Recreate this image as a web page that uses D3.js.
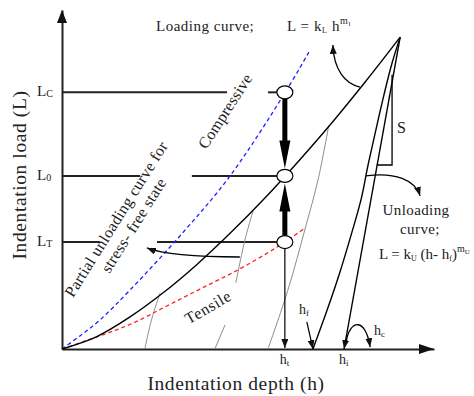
<!DOCTYPE html>
<html>
<head>
<meta charset="utf-8">
<script src="https://cdn.jsdelivr.net/npm/d3@7"></script>
<style>
body { margin: 0; background: #fff; }
text { font-family: "Liberation Serif", "Times New Roman", serif; fill: #222; }
</style>
</head>
<body>
<svg id="chart" width="474" height="396"></svg>
<script>
// values, in (h, L) units, the loading peak sits at (10, 10)
var loadingCurve = [[0, 0], [1, 0.38], [2, 1.02], [3, 1.81], [4, 2.72], [5, 3.74],
    [6, 4.84], [7, 6.03], [8, 7.28], [9, 8.61], [10, 10]];
var compressiveCurve = [[0, 0], [0.53, 0.42], [1.12, 0.93], [2.01, 1.89], [3.58, 3.74],
    [4.97, 5.55], [6.59, 8.21], [7.30, 9.52]];
var tensileCurve = [[0, 0], [1.12, 0.42], [2.10, 0.83], [3.10, 1.38], [4.08, 1.92],
    [5.26, 2.57], [6.36, 3.27], [7.19, 3.88]];
var unloadingCurve = [[7.42, 0], [7.84, 1.25], [8.22, 2.47], [8.55, 3.66], [8.84, 4.78],
    [9.05, 5.90], [9.28, 7.02], [9.52, 8.15], [9.76, 9.17], [10, 10]];
var partialCurves = [
    [[2.90, 1.80], [2.63, 0.87], [2.45, 0]],
    [[5.65, 4.43], [5.41, 3.50], [5.14, 2.12]],
    [[4.82, 0.77], [4.52, 0]],
    [[7.89, 7.18], [7.57, 5.42], [7.18, 3.82], [6.68, 1.89], [6.09, 0]]
];
var stiffnessLine = [[10, 10], [8.34, 0]];
var stiffnessTriangle = [[9.31, 5.90], [9.76, 5.90], [9.76, 8.79]];

var levelNames = ['C', '0', 'T'];
var levelValues = [8.23, 5.55, 3.43];
var levelSegments = [[[0, 4.88], [6.09, 6.59]], [[0, 2.31], [3.84, 6.59]], [[0, 1.12], [2.81, 6.59]]];
var hTest = 6.59;
var hFinal = 7.42;
var hIntercept = 8.34;

// curved pointers, cubic: start, c1, c2, end
var pointerLoading = [[8.81, 8.40], [8.37, 8.50], [8.04, 8.95], [8.01, 9.75]];
var pointerUnloading = [[8.99, 5.55], [9.85, 5.68], [10.44, 5.42], [10.59, 4.91]];
var pointerPartial = [[5.26, 2.95], [4.08, 2.95], [3.05, 3.01], [2.51, 3.24]];
var pointerHc = [[8.40, 0.22], [8.52, 0.99], [8.99, 0.99], [9.11, 0.06]];
var pointerHf = [[7.24, 0.87], [7.42, 0]];

var svg = d3.select('#chart');
var x = d3.scaleLinear().domain([0, 11]).range([62, 434]);
var y = d3.scaleLinear().domain([0, 10.87]).range([349, 10]);

var defs = svg.append('defs');
defs.append('marker')
    .attr('id', 'arrowhead')
    .attr('viewBox', '0 0 10 10')
    .attr('refX', 10).attr('refY', 5)
    .attr('markerUnits', 'userSpaceOnUse')
    .attr('markerWidth', 9).attr('markerHeight', 7)
    .attr('preserveAspectRatio', 'none')
    .attr('orient', 'auto')
    .append('path')
    .attr('d', 'M0 0 10 5 0 10Z')
    .attr('fill', '#111');

var smooth = d3.line()
    .x(function (d) { return x(d[0]); })
    .y(function (d) { return y(d[1]); })
    .curve(d3.curveCatmullRom.alpha(0.5));
var straight = d3.line()
    .x(function (d) { return x(d[0]); })
    .y(function (d) { return y(d[1]); });

function bezier(p) {
    var path = d3.path();
    path.moveTo(x(p[0][0]), y(p[0][1]));
    path.bezierCurveTo(x(p[1][0]), y(p[1][1]), x(p[2][0]), y(p[2][1]), x(p[3][0]), y(p[3][1]));
    return path.toString();
}

// axes, no ticks
svg.append('g')
    .attr('transform', 'translate(0,' + y(0) + ')')
    .call(d3.axisBottom(x).tickValues([]).tickSizeOuter(0));
svg.append('g')
    .attr('transform', 'translate(' + x(0) + ',0)')
    .call(d3.axisLeft(y).tickValues([]).tickSizeOuter(0));
svg.selectAll('.domain').attr('stroke', '#222').attr('stroke-width', 2);

var xEnd = x.range()[1], yEnd = y.range()[1];
svg.append('path')
    .attr('d', 'M' + xEnd + ' ' + y(0) + ' L' + (xEnd - 15) + ' ' + (y(0) - 5) + ' L' + (xEnd - 15) + ' ' + (y(0) + 5) + 'Z')
    .attr('fill', '#111');
svg.append('path')
    .attr('d', 'M' + x(0) + ' ' + yEnd + ' L' + (x(0) - 5) + ' ' + (yEnd + 13) + ' L' + (x(0) + 5) + ' ' + (yEnd + 13) + 'Z')
    .attr('fill', '#111');

// level lines
levelSegments.forEach(function (segs, i) {
    segs.forEach(function (s) {
        svg.append('line')
            .attr('x1', x(s[0])).attr('x2', x(s[1]))
            .attr('y1', y(levelValues[i])).attr('y2', y(levelValues[i]))
            .attr('stroke', '#222').attr('stroke-width', 2);
    });
});

// partial unloading curves
svg.selectAll('path.partial')
    .data(partialCurves).enter().append('path')
    .attr('class', 'partial')
    .attr('d', smooth)
    .attr('fill', 'none').attr('stroke', '#8c8c8c').attr('stroke-width', 1);

svg.append('path').datum(compressiveCurve)
    .attr('d', smooth)
    .attr('fill', 'none').attr('stroke', '#1f1fff').attr('stroke-width', 1.3)
    .attr('stroke-dasharray', '4,3');
svg.append('path').datum(tensileCurve)
    .attr('d', smooth)
    .attr('fill', 'none').attr('stroke', '#ff2020').attr('stroke-width', 1.3)
    .attr('stroke-dasharray', '4,3');
svg.append('path').datum(loadingCurve)
    .attr('d', smooth)
    .attr('fill', 'none').attr('stroke', '#000').attr('stroke-width', 1.4);
svg.append('path').datum(unloadingCurve)
    .attr('d', smooth)
    .attr('fill', 'none').attr('stroke', '#000').attr('stroke-width', 1.4);
svg.append('path').datum(stiffnessLine)
    .attr('d', straight)
    .attr('fill', 'none').attr('stroke', '#000').attr('stroke-width', 1.4)
    .attr('marker-end', 'url(#arrowhead)');
svg.append('path').datum(stiffnessTriangle)
    .attr('d', straight)
    .attr('fill', 'none').attr('stroke', '#000').attr('stroke-width', 1.3);

// pointers
[pointerLoading, pointerUnloading, pointerPartial, pointerHc].forEach(function (p) {
    svg.append('path')
        .attr('d', bezier(p))
        .attr('fill', 'none').attr('stroke', '#000').attr('stroke-width', 1.3)
        .attr('marker-end', 'url(#arrowhead)');
});
svg.append('path').datum(pointerHf)
    .attr('d', straight)
    .attr('fill', 'none').attr('stroke', '#000').attr('stroke-width', 1.2)
    .attr('marker-end', 'url(#arrowhead)');

// vertical arrow from L_T down to h_t
var rx = 8, ry = 6.5;
svg.append('line')
    .attr('x1', x(hTest)).attr('x2', x(hTest))
    .attr('y1', y(levelValues[2]) + ry).attr('y2', y(0) - 1)
    .attr('stroke', '#000').attr('stroke-width', 1.2)
    .attr('marker-end', 'url(#arrowhead)');

// thick arrows between the circles
function thickArrow(cx, yFrom, yTo) {
    var dir = yTo > yFrom ? 1 : -1,
        headLen = 28, headW = 5.5, shaftW = 2.5,
        yBase = yTo - dir * headLen;
    return 'M' + (cx - shaftW) + ' ' + yFrom +
        ' L' + (cx - shaftW) + ' ' + yBase +
        ' L' + (cx - headW) + ' ' + yBase +
        ' L' + cx + ' ' + yTo +
        ' L' + (cx + headW) + ' ' + yBase +
        ' L' + (cx + shaftW) + ' ' + yBase +
        ' L' + (cx + shaftW) + ' ' + yFrom + 'Z';
}
svg.append('path')
    .attr('d', thickArrow(x(hTest), y(levelValues[0]) + ry, y(levelValues[1]) - ry - 1))
    .attr('fill', '#000');
svg.append('path')
    .attr('d', thickArrow(x(hTest), y(levelValues[2]) - ry, y(levelValues[1]) + ry + 1))
    .attr('fill', '#000');

svg.selectAll('ellipse.state')
    .data(levelValues).enter().append('ellipse')
    .attr('class', 'state')
    .attr('cx', x(hTest))
    .attr('cy', function (d) { return y(d); })
    .attr('rx', rx).attr('ry', ry)
    .attr('fill', '#fff').attr('stroke', '#000').attr('stroke-width', 1.2);

// text helpers
function subText(g, px, py, size, parts) {
    var t = g.append('text').attr('x', px).attr('y', py).attr('font-size', size);
    parts.forEach(function (p) {
        t.append('tspan')
            .attr('font-size', p.size || size)
            .attr('dy', p.dy || 0)
            .text(p.text);
    });
    return t;
}

levelNames.forEach(function (n, i) {
    subText(svg, 37, y(levelValues[i]) + 4, 15, [{text: 'L'}, {text: n, size: 10, dy: 1}]);
});

subText(svg, x(hTest) - 5, 364, 14, [{text: 'h'}, {text: 't', size: 9, dy: 2}]);
subText(svg, x(hIntercept) - 5, 364, 14, [{text: 'h'}, {text: 'i', size: 9, dy: 2}]);
subText(svg, x(hFinal) - 14, 314, 14, [{text: 'h'}, {text: 'f', size: 9, dy: 2}]);
subText(svg, 374, 335, 14, [{text: 'h'}, {text: 'c', size: 9, dy: 2}]);
svg.append('text').attr('x', 397).attr('y', 133).attr('font-size', 16).text('S');

svg.append('text').attr('x', 156).attr('y', 31).attr('font-size', 15)
    .attr('letter-spacing', 0.5).text('Loading curve;');
subText(svg, 287, 31, 15, [
    {text: 'L =  k'}, {text: 'L', size: 8, dy: 2}, {text: ' h', dy: -2},
    {text: 'm', size: 10, dy: -7}, {text: 'l', size: 7, dy: 2}
]).attr('letter-spacing', 0.6);

svg.append('text').attr('x', 416).attr('y', 215).attr('font-size', 15)
    .attr('letter-spacing', 0.4).attr('text-anchor', 'middle').text('Unloading');
svg.append('text').attr('x', 420).attr('y', 234).attr('font-size', 15)
    .attr('letter-spacing', 0.4).attr('text-anchor', 'middle').text('curve;');
subText(svg, 379, 259, 15, [
    {text: 'L = k'}, {text: 'U', size: 8, dy: 2}, {text: ' (h- h', dy: -2},
    {text: 'f', size: 8, dy: 2}, {text: ')', dy: -2},
    {text: 'm', size: 10, dy: -7}, {text: 'U', size: 7, dy: 2}
]);

svg.append('text')
    .attr('transform', 'translate(225,111) rotate(-57)')
    .attr('text-anchor', 'middle').attr('dy', '0.35em')
    .attr('font-size', 16).attr('letter-spacing', 0.2).text('Compressive');
svg.append('text')
    .attr('transform', 'translate(208,307) rotate(-30)')
    .attr('text-anchor', 'middle').attr('dy', '0.35em')
    .attr('font-size', 16).attr('letter-spacing', 0.7).text('Tensile');

var note = svg.append('g').attr('transform', 'translate(116,219) rotate(-58)');
note.append('text').attr('text-anchor', 'middle').attr('dy', '0.35em')
    .attr('font-size', 16).attr('letter-spacing', 0.3).text('Partial unloading curve for');
note.append('text').attr('x', 4).attr('y', 18).attr('text-anchor', 'middle').attr('dy', '0.35em')
    .attr('font-size', 16).attr('letter-spacing', 0.3).text('stress- free state');

svg.append('text').attr('x', 236).attr('y', 390).attr('font-size', 19.5)
    .attr('letter-spacing', 0.6).attr('text-anchor', 'middle').text('Indentation depth (h)');
svg.append('text')
    .attr('transform', 'translate(26,175) rotate(-90)')
    .attr('text-anchor', 'middle').attr('font-size', 19.5)
    .attr('letter-spacing', 0.6).text('Indentation load (L)');
</script>
</body>
</html>
